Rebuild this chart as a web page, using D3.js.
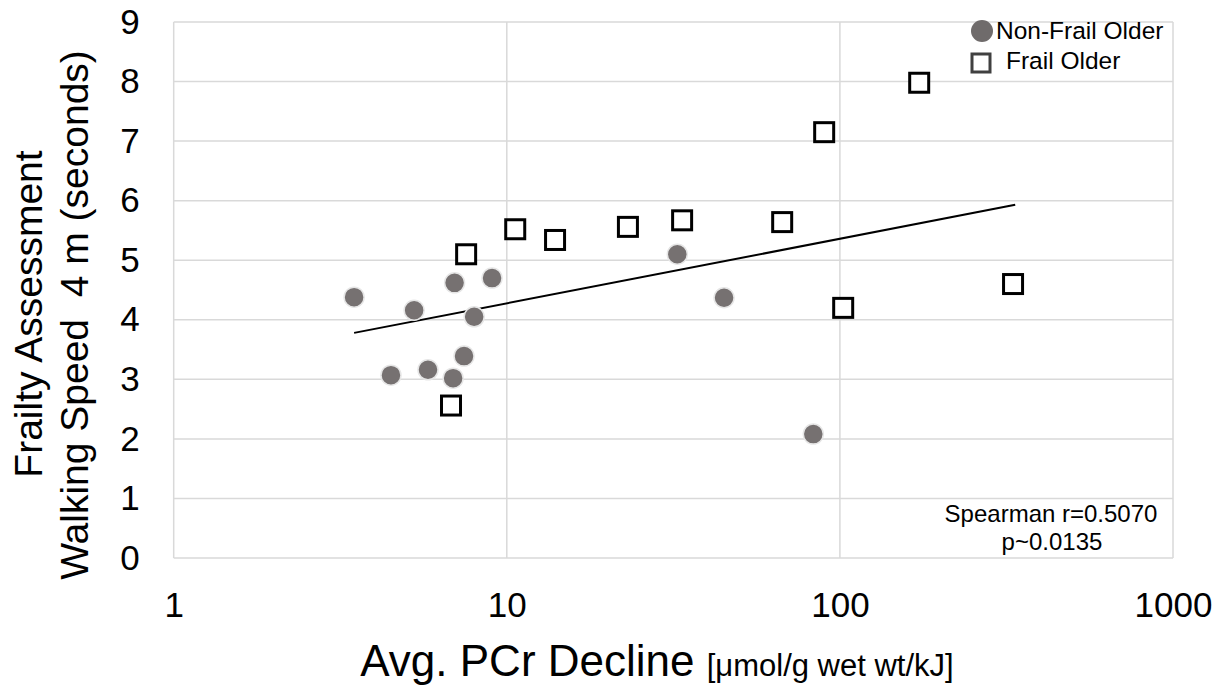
<!DOCTYPE html>
<html><head><meta charset="utf-8">
<script src="https://cdn.jsdelivr.net/npm/d3@7"></script>
<style>body{margin:0;background:#fff}svg{display:block;font-family:"Liberation Sans",Arial,sans-serif}</style>
</head><body>
<svg id="c" width="1232" height="690"></svg>
<script>
const nonFrailX = [3.48, 4.49, 5.27, 5.80, 6.90, 6.97, 7.44, 7.98, 9.03, 32.5, 44.9, 83.2];
const nonFrailY = [4.38, 3.07, 4.16, 3.16, 3.02, 4.62, 3.39, 4.05, 4.70, 5.10, 4.37, 2.08];
const frailX = [6.80, 7.55, 10.6, 13.96, 23.1, 33.6, 67.1, 89.7, 102.3, 173, 331];
const frailY = [2.56, 5.10, 5.52, 5.34, 5.56, 5.67, 5.64, 7.15, 4.20, 7.98, 4.60];
const trendX = [3.48, 336];
const trendY = [3.78, 5.93];
const xTicks = [1, 10, 100, 1000];
const yTicks = [0,1,2,3,4,5,6,7,8,9];

const svg = d3.select("#c");
const L = 173.7, R = 1173, T = 22, B = 558;
const x = d3.scaleLog().domain([1,1000]).range([L,R]);
const y = d3.scaleLinear().domain([0,9]).range([B,T]);
const FF = "Liberation Sans, Arial, sans-serif";

// gridlines
svg.append("g").selectAll("line").data(yTicks).join("line")
  .attr("x1",L).attr("x2",R).attr("y1",d=>y(d)).attr("y2",d=>y(d))
  .attr("stroke","#d9d9d9").attr("stroke-width",1.5);
svg.append("g").selectAll("line").data(xTicks).join("line")
  .attr("x1",d=>x(d)).attr("x2",d=>x(d)).attr("y1",T).attr("y2",B)
  .attr("stroke","#d9d9d9").attr("stroke-width",1.5);

// axes (labels only)
const ya = svg.append("g").attr("transform",`translate(${L},0)`)
  .call(d3.axisLeft(y).tickValues(yTicks).tickSize(0).tickPadding(34).tickFormat(d3.format("d")));
ya.select(".domain").remove();
ya.selectAll("text").attr("font-size",35).attr("fill","#000").attr("font-family",FF);
const xa = svg.append("g").attr("transform",`translate(0,${B})`)
  .call(d3.axisBottom(x).tickValues(xTicks).tickSize(0).tickPadding(34).tickFormat(d3.format("d")));
xa.select(".domain").remove();
xa.selectAll("text").attr("font-size",35).attr("fill","#000").attr("font-family",FF);

// trend line
svg.append("line")
  .attr("x1",x(trendX[0])).attr("y1",y(trendY[0]))
  .attr("x2",x(trendX[1])).attr("y2",y(trendY[1]))
  .attr("stroke","#000").attr("stroke-width",2);

// non-frail circles
svg.append("g").selectAll("circle").data(nonFrailX).join("circle")
  .attr("cx",d=>x(d)).attr("cy",(d,i)=>y(nonFrailY[i])).attr("r",10)
  .attr("fill","#767171").attr("stroke","#e6e6e6").attr("stroke-width",1.5);

// frail squares
const s = 19;
svg.append("g").selectAll("rect").data(frailX).join("rect")
  .attr("x",d=>x(d)-s/2).attr("y",(d,i)=>y(frailY[i])-s/2).attr("width",s).attr("height",s)
  .attr("fill","#fff").attr("stroke","#000").attr("stroke-width",3);

// legend
svg.append("circle").attr("cx",982).attr("cy",31).attr("r",11).attr("fill","#6f6b6b");
svg.append("text").attr("x",996).attr("y",39).attr("font-size",24.5).text("Non-Frail Older");
svg.append("rect").attr("x",972).attr("y",54).attr("width",18).attr("height",18)
  .attr("fill","#fff").attr("stroke","#404040").attr("stroke-width",3);
svg.append("text").attr("x",1006).attr("y",69).attr("font-size",24.5).text("Frail Older");

// stats
svg.append("text").attr("x",1051).attr("y",522).attr("text-anchor","middle").attr("font-size",24).text("Spearman r=0.5070");
svg.append("text").attr("x",1052).attr("y",550).attr("text-anchor","middle").attr("font-size",24).text("p~0.0135");

// axis titles
const xt = svg.append("text").attr("x",657).attr("y",676).attr("text-anchor","middle");
xt.append("tspan").attr("font-size",44).text("Avg. PCr Decline ");
xt.append("tspan").attr("font-size",31).text("[μmol/g wet wt/kJ]");
svg.append("text").attr("transform","translate(42,314) rotate(-90)").attr("text-anchor","middle")
  .attr("font-size",39).text("Frailty Assessment");
svg.append("text").attr("transform","translate(88,315) rotate(-90)").attr("text-anchor","middle")
  .attr("font-size",39).style("white-space","pre").text("Walking Speed  4 m (seconds)");
</script>
</body></html>
